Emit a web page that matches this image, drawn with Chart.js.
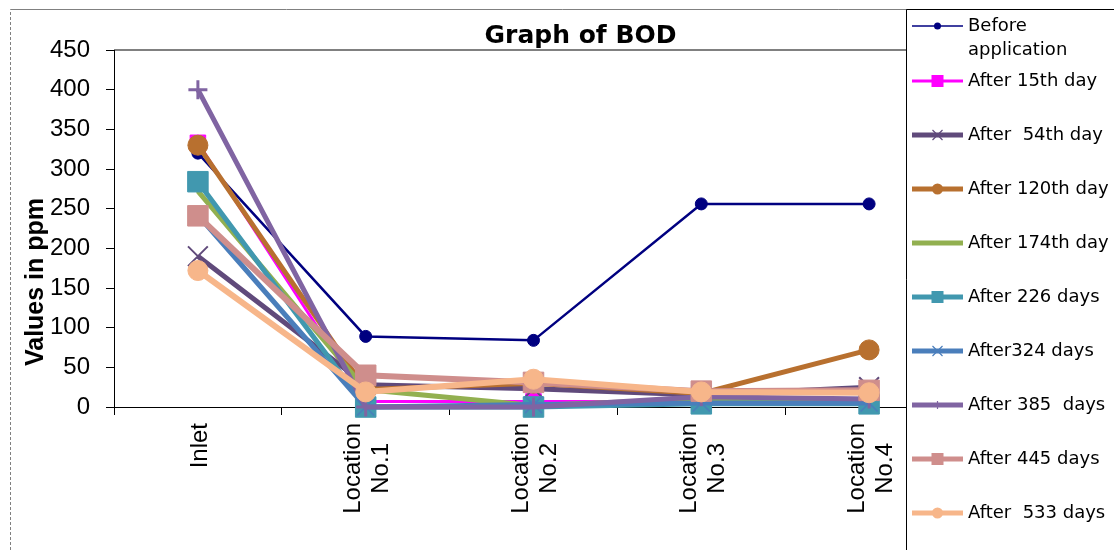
<!DOCTYPE html>
<html><head><meta charset="utf-8">
<script src="https://cdn.jsdelivr.net/npm/chart.js@4.4.1/dist/chart.umd.min.js"></script>
<style>html,body{margin:0;padding:0;background:#fff;}#wrap{position:relative;width:1114px;height:550px;}</style>
</head><body><div id="wrap"><canvas id="c" width="1114" height="550"></canvas></div>
<script>
const chartTitle = "Graph of BOD";
const yAxisTitle = "Values in ppm";
const categories = [["Inlet"], ["Location", "No.1"], ["Location", "No.2"], ["Location", "No.3"], ["Location", "No.4"]];
const yTickValues = [0, 50, 100, 150, 200, 250, 300, 350, 400, 450];
const seriesNames = [["Before", "application"], ["After 15th day"], ["After  54th day"], ["After 120th day"], ["After 174th day"], ["After 226 days"], ["After324 days"], ["After 385  days"], ["After 445 days"], ["After  533 days"]];
const beforeApplication = [320, 89, 84, 256, 256];
const after15th = [333, 7, 7, 7, 5];
const after54th = [190, 28, 23, 15, 25];
const after120th = [330, 22, 30, 17, 72];
const after174th = [272, 22, 2, 10, 6];
const after226 = [284, 0, 0, 4, 4];
const after324 = [242, 0, 3, 5, 5];
const after385 = [400, 0, 0, 13, 10];
const after445 = [241, 40, 31, 20, 21];
const after533 = [172, 19, 35, 19, 18];
const seriesValues = [beforeApplication, after15th, after54th, after120th, after174th, after226, after324, after385, after445, after533];

// styles (separate from data)
const styles = [
  {color: '#000080', width: 2.5, point: 'circle', r: 6, pbw: 1, lw: 1.5, lp: 'circle', lr: 3.5},
  {color: '#FF00FF', width: 3, point: 'rect', r: 11, pbw: 1, lw: 3, lp: 'rect', lr: 6},
  {color: '#604A7B', width: 5, point: 'crossRot', r: 14, pbw: 2, lw: 5, lp: 'crossRot', lr: 5},
  {color: '#B8702F', width: 5, point: 'circle', r: 10, pbw: 1, lw: 5, lp: 'circle', lr: 5.5},
  {color: '#92B050', width: 5, point: false, r: 0, pbw: 0, lw: 5, lp: null, lr: 0},
  {color: '#4198AF', width: 5, point: 'rect', r: 14.5, pbw: 1, lw: 5, lp: 'rect', lr: 6},
  {color: '#4A7EBB', width: 5, point: 'crossRot', r: 12, pbw: 1.5, lw: 5, lp: 'crossRot', lr: 5},
  {color: '#8064A2', width: 5, point: 'cross', r: 9.5, pbw: 3, lw: 5, lp: 'cross', lr: 4},
  {color: '#CF8E8C', width: 6, point: 'rect', r: 14.5, pbw: 1, lw: 5, lp: 'rect', lr: 6},
  {color: '#F7B68A', width: 6, point: 'circle', r: 10, pbw: 1, lw: 5, lp: 'circle', lr: 5.5}
];

const datasets = seriesValues.map((vals, i) => {
  const s = styles[i];
  return {
    label: seriesNames[i].join(' '),
    data: vals,
    borderColor: s.color,
    backgroundColor: s.color,
    borderWidth: s.width,
    pointStyle: s.point,
    pointRadius: s.r,
    pointHoverRadius: s.r,
    pointBorderWidth: s.pbw,
    pointBackgroundColor: s.color,
    pointBorderColor: s.color,
    tension: 0,
    clip: false,
    order: -i
  };
});

function legendMark(ctx, style, x, y, r, color) {
  ctx.save();
  ctx.fillStyle = color; ctx.strokeStyle = color; ctx.lineWidth = 1.2;
  ctx.beginPath();
  if (style === 'circle') { ctx.arc(x, y, r, 0, Math.PI * 2); ctx.fill(); }
  else if (style === 'rect') { ctx.fillRect(x - r, y - r, 2 * r, 2 * r); }
  else if (style === 'crossRot') { ctx.moveTo(x - r, y - r); ctx.lineTo(x + r, y + r); ctx.moveTo(x + r, y - r); ctx.lineTo(x - r, y + r); ctx.stroke(); }
  else if (style === 'cross') { ctx.moveTo(x, y - r); ctx.lineTo(x, y + r); ctx.moveTo(x - r, y); ctx.lineTo(x + r, y); ctx.stroke(); }
  ctx.restore();
}

const deco = {
  id: 'deco',
  beforeDraw(chart) {
    const ctx = chart.ctx, a = chart.chartArea;
    ctx.save();
    ctx.fillStyle = '#fff'; ctx.fillRect(0, 0, chart.width, chart.height);
    ctx.strokeStyle = '#808080'; ctx.lineWidth = 1;
    ctx.setLineDash([3, 2]);
    ctx.beginPath(); ctx.moveTo(10.5, 550); ctx.lineTo(10.5, 9.5); ctx.stroke();
    ctx.setLineDash([]);
    ctx.beginPath(); ctx.moveTo(10.5, 9.5); ctx.lineTo(chart.width, 9.5); ctx.stroke();
    ctx.strokeStyle = '#808080'; ctx.lineWidth = 2;
    ctx.beginPath(); ctx.moveTo(a.left, a.top); ctx.lineTo(a.right, a.top); ctx.stroke();
    ctx.restore();
  },
  afterDraw(chart) {
    const ctx = chart.ctx, a = chart.chartArea, xs = chart.scales.x;
    ctx.save();
    ctx.fillStyle = '#000';
    // title
    ctx.font = 'bold 25px "DejaVu Sans", sans-serif';
    ctx.textAlign = 'center'; ctx.textBaseline = 'alphabetic';
    ctx.fillText(chartTitle, 580.5, 43);
    // y axis title
    ctx.save();
    ctx.font = 'bold 25px "Liberation Sans", Arial, sans-serif';
    ctx.translate(43, 282); ctx.rotate(-Math.PI / 2);
    ctx.textAlign = 'center'; ctx.textBaseline = 'alphabetic';
    ctx.fillText(yAxisTitle, 0, 0);
    ctx.restore();
    // x labels
    ctx.font = '24px "Liberation Sans", Arial, sans-serif';
    categories.forEach((lines, i) => {
      const px = xs.getPixelForValue(i);
      const W = Math.max(...lines.map(l => ctx.measureText(l).width));
      const yc = a.bottom + 16 + W / 2;
      ctx.save();
      ctx.translate(px, yc); ctx.rotate(-Math.PI / 2);
      ctx.textAlign = 'center'; ctx.textBaseline = 'alphabetic';
      lines.forEach((l, k) => {
        const off = 8.6 + (k - (lines.length - 1) / 2) * 28;
        ctx.fillText(l, 0, off);
      });
      ctx.restore();
    });
    // legend box
    const lx = 906;
    ctx.fillStyle = '#fff';
    ctx.fillRect(lx, 10, chart.width - lx, chart.height - 10);
    ctx.strokeStyle = '#000'; ctx.lineWidth = 1;
    ctx.beginPath(); ctx.moveTo(lx + 0.5, chart.height); ctx.lineTo(lx + 0.5, 9.5); ctx.lineTo(chart.width, 9.5); ctx.stroke();
    ctx.font = '18px "DejaVu Sans", sans-serif';
    ctx.textAlign = 'left'; ctx.textBaseline = 'middle';
    seriesNames.forEach((names, i) => {
      const s = styles[i];
      const y = i === 0 ? 26 : 81 + 54 * (i - 1);
      ctx.strokeStyle = s.color; ctx.lineWidth = s.lw;
      ctx.beginPath(); ctx.moveTo(912, y); ctx.lineTo(963, y); ctx.stroke();
      if (s.lp) legendMark(ctx, s.lp, 937.5, y, s.lr, s.color);
      ctx.fillStyle = '#000';
      names.forEach((n, k) => ctx.fillText(n, 968, y + k * 24));
    });
    ctx.restore();
  }
};

new Chart(document.getElementById('c'), {
  type: 'line',
  data: {labels: categories.map(c => c.join(' ')), datasets: datasets},
  options: {
    responsive: false, animation: false, devicePixelRatio: 1,
    layout: {padding: {left: 0, top: 50, right: 161, bottom: 0}},
    plugins: {legend: {display: false}, title: {display: false}, tooltip: {enabled: false}},
    events: [],
    scales: {
      x: {
        type: 'category', offset: true,
        grid: {offset: true, drawOnChartArea: false, drawTicks: true, tickLength: 8, color: '#000', lineWidth: 1},
        border: {color: '#000', width: 1},
        ticks: {display: false},
        afterFit(s) { s.height = 143; }
      },
      y: {
        min: 0, max: 450,
        grid: {drawOnChartArea: false, drawTicks: true, tickLength: 8, color: '#000', lineWidth: 1},
        border: {color: '#000', width: 1},
        afterBuildTicks(s) { s.ticks = yTickValues.map(v => ({value: v})); },
        ticks: {autoSkip: false, padding: 16, color: '#000', font: {family: '"Liberation Sans", Arial, sans-serif', size: 24}},
        afterFit(s) { s.width = 114; }
      }
    }
  },
  plugins: [deco]
});
</script></body></html>
